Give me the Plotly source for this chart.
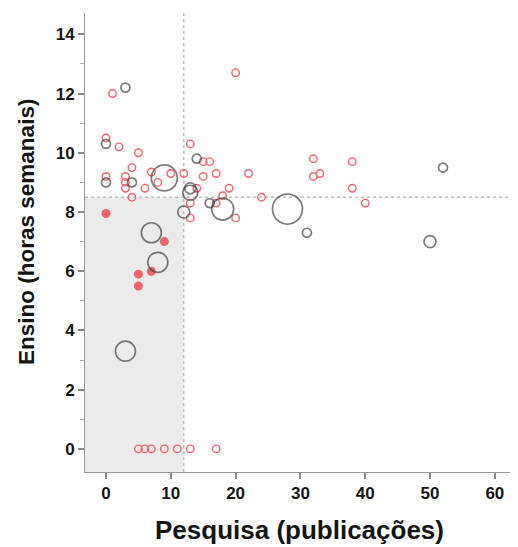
import plotly.graph_objects as go

# Red open circles (publicações, horas)
red_open_x = [20, 1, 0, 2, 5, 13, 15, 16, 4, 0, 3, 3, 3, 7, 8, 10, 12, 15, 17, 22,
              6, 4, 14, 19, 18, 24, 17, 13, 13, 20, 32, 38, 32, 33, 38, 40,
              5, 6, 7, 9, 11, 13, 17]
red_open_y = [12.7, 12.0, 10.5, 10.2, 10.0, 10.3, 9.7, 9.7, 9.5, 9.2, 9.2, 9.0, 8.8, 9.35, 9.0, 9.3, 9.3, 9.2, 9.3, 9.3,
              8.8, 8.5, 8.8, 8.8, 8.55, 8.5, 8.3, 8.3, 7.8, 7.8, 9.8, 9.7, 9.2, 9.3, 8.8, 8.3,
              0, 0, 0, 0, 0, 0, 0]

# Red filled circles
red_fill_x = [0, 9, 5, 7, 5]
red_fill_y = [7.95, 7.0, 5.9, 6.0, 5.5]

# Black open circles with relative size
black_x = [3, 0, 14, 0, 4, 9, 13, 13, 16, 18, 28, 12, 52, 31, 50, 7, 8, 3]
black_y = [12.2, 10.3, 9.8, 9.0, 9.0, 9.15, 8.8, 8.65, 8.3, 8.1, 8.1, 8.0, 9.5, 7.3, 7.0, 7.3, 6.3, 3.3]
black_s = [9, 9, 9, 9, 9, 26, 11, 15, 9, 22, 30, 12, 9, 9, 12, 20, 20, 20]

# Reference thresholds
ref_x = 12
ref_y = 8.5

x_ticks = [0, 10, 20, 30, 40, 50, 60]
y_ticks = [0, 2, 4, 6, 8, 10, 12, 14]
y_minor = [1, 3, 5, 7, 9, 11, 13]

x_title = "Pesquisa (publicações)"
y_title = "Ensino (horas semanais)"

x_range = [-3.24, 62.8]
y_range = [-0.78, 14.72]

RED = "#F0646E"
BLK = "#444444"
TXT = "#151515"
FONT = "Liberation Sans, Arial, sans-serif"

fig = go.Figure()

fig.add_trace(go.Scatter(
    x=red_open_x, y=red_open_y, mode="markers",
    marker=dict(symbol="circle-open", size=7.5, color=RED, line=dict(width=1.4, color=RED)),
    hoverinfo="x+y", showlegend=False))

fig.add_trace(go.Scatter(
    x=red_fill_x, y=red_fill_y, mode="markers",
    marker=dict(symbol="circle", size=9, color=RED, line=dict(width=0)),
    hoverinfo="x+y", showlegend=False))

fig.add_trace(go.Scatter(
    x=black_x, y=black_y, mode="markers",
    marker=dict(symbol="circle-open", size=black_s, color=BLK, line=dict(width=1.7, color=BLK)),
    hoverinfo="x+y", showlegend=False))

# shaded quadrant
fig.add_shape(type="rect", xref="x", yref="y", x0=x_range[0], x1=ref_x, y0=y_range[0], y1=ref_y,
              fillcolor="#EBEBEB", line=dict(width=0), layer="below")
# dotted reference lines
fig.add_shape(type="line", xref="x", yref="y", x0=ref_x, x1=ref_x, y0=y_range[0], y1=y_range[1],
              line=dict(color="#BDBDBD", width=1.5, dash="dot"), layer="below")
fig.add_shape(type="line", xref="x", yref="y", x0=x_range[0], x1=x_range[1], y0=ref_y, y1=ref_y,
              line=dict(color="#BDBDBD", width=1.5, dash="dot"), layer="below")

# axis titles as annotations for precise placement
fig.add_annotation(text=x_title, xref="paper", yref="paper", x=0.502, y=0, yshift=-58,
                   xanchor="center", yanchor="middle", showarrow=False,
                   font=dict(family=FONT, size=26, weight="bold", color=TXT))
fig.add_annotation(text=y_title, xref="paper", yref="paper", x=0, y=0.523, xshift=-58,
                   xanchor="center", yanchor="middle", showarrow=False, textangle=-90,
                   font=dict(family=FONT, size=22.5, weight="bold", color=TXT))

fig.update_layout(
    width=518, height=547,
    margin=dict(l=77, r=13, t=5, b=83),
    paper_bgcolor="white", plot_bgcolor="white",
    font=dict(family=FONT, color=TXT),
)

fig.update_xaxes(
    range=x_range, tickmode="array", tickvals=x_ticks,
    showgrid=False, zeroline=False,
    showline=True, linecolor="#999", linewidth=1,
    ticks="outside", ticklen=6, tickcolor="#888", tickwidth=1.5,
    tickfont=dict(family=FONT, size=17, weight="bold", color=TXT),
)
fig.update_yaxes(
    range=y_range, tickmode="array", tickvals=y_ticks,
    showgrid=False, zeroline=False,
    showline=True, linecolor="#999", linewidth=1,
    ticks="outside", ticklen=6, tickcolor="#888", tickwidth=1.5,
    minor=dict(tickmode="array", tickvals=y_minor, ticks="outside", ticklen=4, tickcolor="#aaa", tickwidth=1),
    tickfont=dict(family=FONT, size=17, weight="bold", color=TXT),
)

fig.write_html("out.html")
